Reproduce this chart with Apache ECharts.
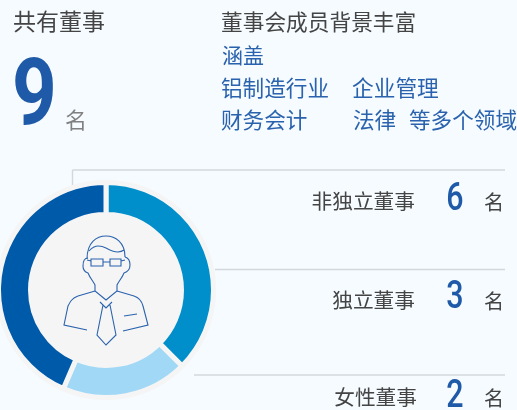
<!DOCTYPE html>
<html>
<head>
<meta charset="utf-8">
<style>html,body{margin:0;padding:0;background:#f5fbff}#main{width:517px;height:410px}</style>
<script src="https://cdn.jsdelivr.net/npm/echarts@6/dist/echarts.min.js"></script>
</head>
<body>
<div id="main"></div>
<script>
// ring shares, read as angles off the picture
var ringNames = ['独立董事', '女性董事', '非独立董事'];
var ringValues = [37.5, 19, 43.5];
var ringColors = ['#008fcb', '#a0d8f6', '#005aaa'];

var rowNames = ['非独立董事', '独立董事', '女性董事'];
var rowCounts = ['6', '3', '2'];

var FONT = '"Noto Sans CJK SC"';
var GRAY = '#444444', BLUE = '#2a62ad', NUM = '#1f5aa8', RULE = '#d3d8dc', DISC = '#f5f5f5';

function txt(x, y, s, size, color, align) {
    return {
        type: 'text', x: x, y: y, silent: true,
        style: { text: s, fill: color, font: size + 'px ' + FONT, textAlign: align || 'left', textVerticalAlign: 'middle' }
    };
}
// digits are narrower than Roboto, so squeeze them
function num(x, y, s, size, weight, sx, align) {
    return {
        type: 'text', x: x, y: y, silent: true, scaleX: sx,
        style: { text: s, fill: NUM, font: weight + ' ' + size + 'px Roboto', textAlign: align, textVerticalAlign: 'middle' }
    };
}
function rule(x1, y1, x2, y2) {
    return { type: 'line', silent: true, shape: { x1: x1, y1: y1, x2: x2, y2: y2 }, style: { stroke: RULE, lineWidth: 1.4 } };
}

// person icon, page coordinates
var iconPaths = [
    'M87 259 C87 242 97 236 106 236 C115 236 125 242 125 257 M89 251 C94 245 100 245 106 248 C113 252 120 253 124 250',
    'M88 258 C84 258 83 262 83 266 C83 270 85 272 88 273 C90 278 93 281 95 285 L95 291 L106 300 L117 291 L117 285 C119 281 122 278 124 273 C127 272 130 270 130 265 C130 261 129 258 125 257',
    'M91 259 H103 V266 H91 Z M110 259 H121 V266 H110 Z M103 262 H110 M87 260 L91 261 M121 261 L125 260',
    'M95 291 L78 296 C72 298 70 302 68 306 L64 325 L87 330 M117 291 L134 296 C140 298 142 302 143 306 L148 325 L123 331',
    'M100 302 L106 308 L112 302 M103 305 L97 335 L106 345 L116 335 L110 305',
    'M124 316 L137 314'
];
iconPaths.forEach(function (d, i) {
    echarts.graphic.registerShape('iconPart' + i, echarts.graphic.extendPath(d));
});

var elements = [
    txt(13, 21, '共有董事', 23, GRAY),
    num(12, 101, '9', 93, 'bold', 0.84, 'left'),
    txt(65, 120, '名', 22, '#808080'),
    txt(221, 22, '董事会成员背景丰富', 21.7, GRAY),
    txt(222, 55, '涵盖', 21, BLUE),
    txt(221, 88, '铝制造行业', 21.6, BLUE),
    txt(352, 88, '企业管理', 21.7, BLUE),
    txt(221, 120, '财务会计', 21.6, BLUE),
    txt(353, 120, '法律', 21.6, BLUE),
    txt(409, 120, '等多个领域', 21.6, BLUE),
    rule(72.5, 170, 505, 170),
    rule(72.5, 170, 72.5, 186),
    rule(215, 269.5, 505, 269.5),
    rule(194, 375, 505, 375)
];
iconPaths.forEach(function (d, i) {
    elements.push({ type: 'iconPart' + i, silent: true, z: 10, style: { fill: 'none', stroke: '#2a62ad', lineWidth: 1.1 } });
});
var rowTextY = [201, 300, 397];
var rowNumY = [200, 298, 397];
var rowRight = [415, 415, 417];
rowNames.forEach(function (name, i) {
    elements.push(txt(rowRight[i], rowTextY[i], name, 20.7, GRAY, 'right'));
    elements.push(num(455, rowNumY[i], rowCounts[i], 38, '500', 0.8, 'center'));
    elements.push(txt(494, rowTextY[i] + 1, '名', 20, GRAY, 'center'));
});

var chart = echarts.init(document.getElementById('main'));
chart.setOption({
    backgroundColor: '#f5fbff',
    animation: false,
    graphic: { elements: elements },
    series: [{
        type: 'pie', silent: true, center: [106, 290], radius: [0, 110], z: 1,
        label: { show: false }, labelLine: { show: false },
        itemStyle: { color: DISC }, data: [1]
    }, {
        type: 'pie', silent: true, center: [106, 290], radius: [75.5, 107.5], z: 2,
        startAngle: 90, clockwise: true,
        label: { show: false }, labelLine: { show: false },
        itemStyle: { borderColor: DISC, borderWidth: 5 },
        data: ringValues.map(function (v, i) {
            return { name: ringNames[i], value: v, itemStyle: { color: ringColors[i] } };
        })
    }]
});
</script>
</body>
</html>
